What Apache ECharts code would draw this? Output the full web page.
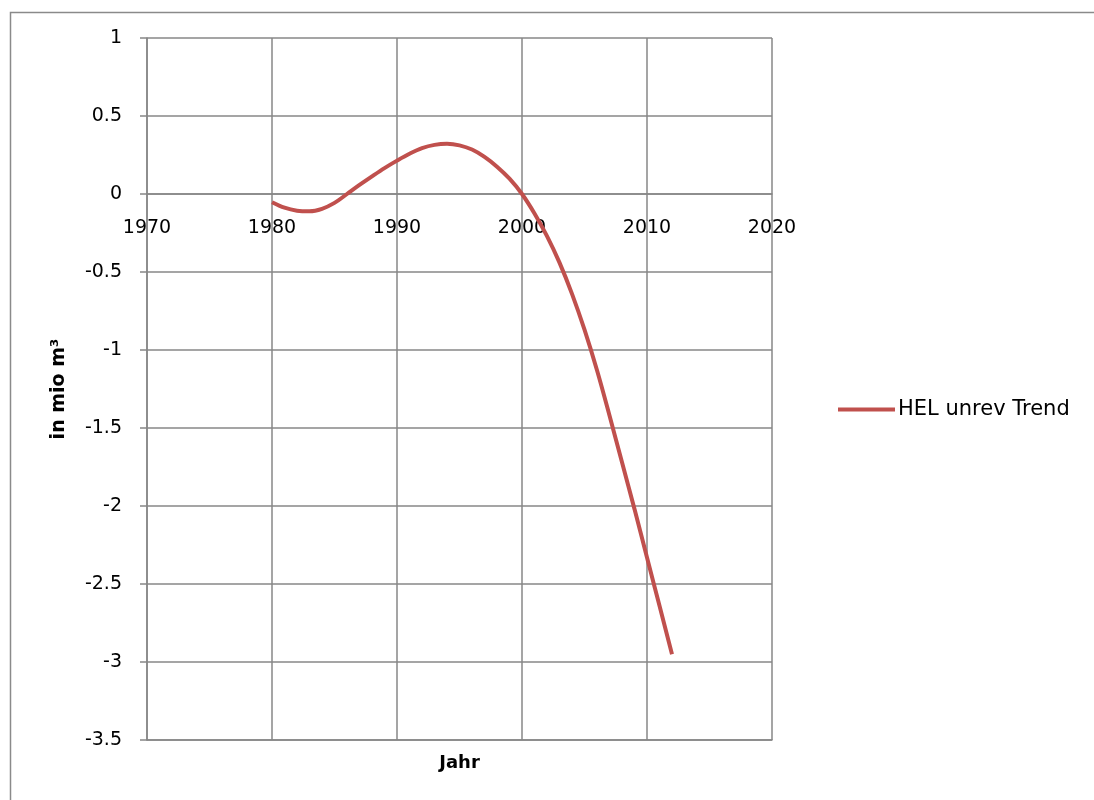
<!DOCTYPE html>
<html>
<head>
<meta charset="utf-8">
<script src="https://cdn.jsdelivr.net/npm/echarts@6/dist/echarts.min.js"></script>
<style>
html,body{margin:0;padding:0;background:#fff;}
#chart{width:1094px;height:800px;}
</style>
</head>
<body>
<div id="chart"></div>
<script>
const years = [1980,1981,1982,1983,1984,1985,1986,1987,1988,1989,1990,1991,1992,1993,1994,1995,1996,1997,1998,1999,2000,2001,2002,2003,2004,2005,2006,2007,2008,2009,2010,2011,2012];
const trend = [-0.053,-0.088,-0.107,-0.111,-0.095,-0.057,0.0,0.058,0.113,0.166,0.214,0.258,0.294,0.315,0.322,0.312,0.285,0.238,0.175,0.098,0.0,-0.125,-0.27,-0.44,-0.64,-0.87,-1.13,-1.42,-1.72,-2.02,-2.33,-2.64,-2.95];
const seriesName = 'HEL unrev Trend';
const xAxisName = 'Jahr';
const yAxisName = 'in mio m\u00B3';

const Y_MIN = -3.5, Y_MAX = 1;
const GRID_TOP = 38, GRID_BOTTOM = 60, H = 800;
const gridH = H - GRID_TOP - GRID_BOTTOM;
// pixel offset that moves the label axis from the bottom edge up to y = 0
const zeroOffset = -((0 - Y_MIN) / (Y_MAX - Y_MIN)) * gridH;

const chart = echarts.init(document.getElementById('chart'));
const gridColor = '#878787';
chart.setOption({
  animation: false,
  backgroundColor: '#fff',
  graphic: [{
    type: 'rect', left: 8, top: 10, shape: {width: 1200, height: 900},
    style: {fill: 'none', stroke: '#8a8a8a', lineWidth: 1.5}, silent: true, z: -1
  }],
  grid: {left: 147, right: 322, top: GRID_TOP, bottom: GRID_BOTTOM, outerBoundsMode: 'none', containLabel: false},
  legend: {
    data: [seriesName], orient: 'vertical', left: 833, top: 394,
    itemWidth: 57, itemHeight: 4, itemGap: 4,
    icon: 'rect',
    textStyle: {fontFamily: 'DejaVu Sans', fontSize: 21, color: '#000', padding: [0,0,0,-2]}
  },
  xAxis: [{
    type: 'value', min: 1970, max: 2020, interval: 10, position: 'bottom',
    name: xAxisName, nameLocation: 'middle', nameGap: 14,
    nameTextStyle: {fontFamily: 'DejaVu Sans', fontWeight: 'bold', fontSize: 18, color: '#000'},
    axisLine: {show: true, onZero: false, lineStyle: {color: gridColor, width: 1.5}},
    axisTick: {show: false},
    axisLabel: {show: false},
    splitLine: {show: true, lineStyle: {color: gridColor, width: 1.5}}
  }, {
    type: 'value', min: 1970, max: 2020, interval: 10, position: 'bottom', offset: zeroOffset,
    axisLine: {show: true, onZero: false, lineStyle: {color: gridColor, width: 1.5}},
    axisTick: {show: false},
    axisLabel: {fontFamily: 'DejaVu Sans', fontSize: 19, color: '#000', margin: 25,
      formatter: v => String(v)},
    splitLine: {show: false}
  }],
  yAxis: {
    type: 'value', min: Y_MIN, max: Y_MAX, interval: 0.5,
    name: yAxisName, nameLocation: 'middle', nameGap: 78, nameRotate: 90,
    nameTextStyle: {fontFamily: 'DejaVu Sans', fontWeight: 'bold', fontSize: 19, color: '#000'},
    axisLine: {show: true, onZero: false, lineStyle: {color: gridColor, width: 1.5}},
    axisTick: {show: true, inside: false, length: 7, lineStyle: {color: gridColor, width: 1.5}},
    axisLabel: {fontFamily: 'DejaVu Sans', fontSize: 19, color: '#000', margin: 25},
    splitLine: {show: true, lineStyle: {color: gridColor, width: 1.5}}
  },
  series: [{
    name: seriesName, type: 'line', smooth: 0.35, symbol: 'none', xAxisIndex: 0,
    data: years.map((y, i) => [y, trend[i]]),
    lineStyle: {color: '#C0504D', width: 4},
    itemStyle: {color: '#C0504D'}
  }]
});
</script>
</body>
</html>
